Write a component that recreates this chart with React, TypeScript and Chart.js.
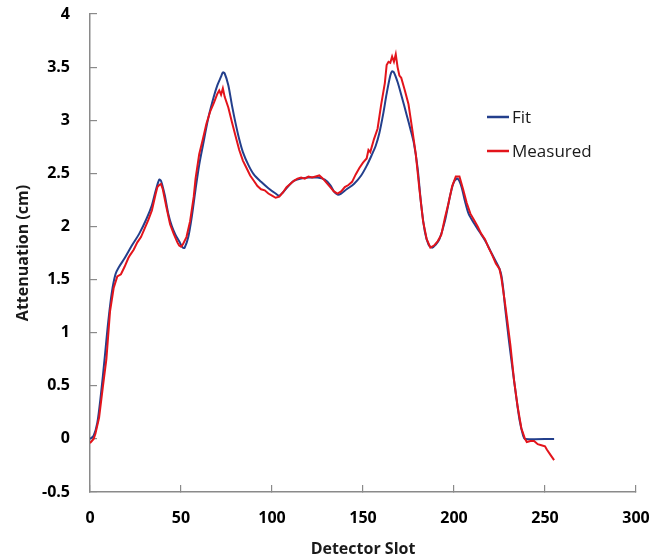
import React, { useEffect, useRef } from "react";
import { Chart, registerables } from "chart.js";

Chart.register(...registerables);

const seriesNames = ["Fit", "Measured"];

const fitSlots = [
  0, 2, 4, 6, 8, 10, 12, 14, 16, 19, 23, 27, 31, 34, 36, 38, 39, 41, 43, 45, 47, 49, 51, 52, 54, 56, 58, 60, 62, 65,
  68, 70, 72, 73, 74, 76, 78, 80, 82, 84, 87, 90, 94, 98, 102, 104, 106, 109, 112, 116, 120, 125, 129, 132, 134, 136,
  138, 141, 145, 149, 152, 155, 157, 159, 161, 163, 165, 166, 167, 169, 171, 174, 176, 178, 180, 182, 184, 186, 188,
  190, 192, 195, 198, 200, 202, 204, 206, 208, 211, 214, 217, 220, 223, 225, 226, 227, 228, 229, 230, 232, 234, 236,
  238, 239, 255,
];
const fitValues = [
  0, 0.03, 0.15, 0.42, 0.75, 1.1, 1.38, 1.55, 1.62, 1.7, 1.82, 1.93, 2.07, 2.2, 2.33, 2.44, 2.43, 2.3, 2.12, 2.0, 1.92,
  1.86, 1.8, 1.8, 1.9, 2.1, 2.35, 2.58, 2.76, 3.02, 3.22, 3.33, 3.41, 3.45, 3.44, 3.33, 3.14, 2.97, 2.82, 2.7, 2.58,
  2.49, 2.42, 2.36, 2.31, 2.29, 2.32, 2.38, 2.43, 2.45, 2.46, 2.46, 2.44, 2.39, 2.33, 2.3, 2.31, 2.35, 2.4, 2.48, 2.57,
  2.68, 2.76, 2.88, 3.05, 3.25, 3.42, 3.46, 3.45, 3.36, 3.24, 3.05, 2.92, 2.78, 2.55, 2.2, 1.95, 1.83, 1.8, 1.83, 1.88,
  2.05, 2.3, 2.42, 2.45, 2.38, 2.24, 2.12, 2.03, 1.95, 1.87, 1.77, 1.67, 1.6, 1.54, 1.42, 1.25, 1.1, 0.95, 0.68, 0.42,
  0.18, 0.03, 0, 0,
];

const measuredSlots = [
  0, 1, 2, 3, 5, 7, 9, 11, 13, 15, 17, 19, 21, 22, 24, 26, 28, 30, 32, 34, 36, 37, 38, 39, 40, 42, 44, 46, 48, 49, 50,
  51, 53, 55, 57, 58, 60, 62, 64, 66, 68, 70, 71, 72, 73, 74, 76, 78, 80, 82, 84, 86, 88, 90, 92, 94, 96, 98, 100, 102,
  104, 106, 108, 110, 112, 114, 116, 118, 120, 122, 124, 126, 128, 130, 132, 134, 136, 138, 140, 142, 144, 146, 148,
  150, 152, 153, 154, 156, 158, 160, 162, 163, 164, 165, 166, 167, 168, 169, 170, 171, 173, 175, 177, 179, 181, 183,
  185, 187, 189, 191, 193, 195, 197, 199, 201, 203, 205, 207, 209, 211, 213, 215, 217, 219, 221, 223, 225, 226, 227,
  228, 229, 231, 233, 235, 237, 239, 240, 242, 244, 246, 248, 250, 251, 253, 255,
];
const measuredValues = [
  -0.04, -0.02, 0.0, 0.05, 0.2, 0.48, 0.75, 1.2, 1.42, 1.53, 1.55, 1.62, 1.7, 1.73, 1.78, 1.85, 1.9, 1.98, 2.06, 2.15,
  2.3, 2.37, 2.39, 2.4, 2.35, 2.18, 2.02, 1.93, 1.85, 1.82, 1.81, 1.83, 1.9, 2.05, 2.28, 2.45, 2.68, 2.82, 2.97, 3.08,
  3.16, 3.25, 3.28, 3.24, 3.3, 3.22, 3.12, 2.98, 2.85, 2.72, 2.62, 2.55, 2.48, 2.43, 2.38, 2.35, 2.34, 2.31, 2.29, 2.27,
  2.28, 2.32, 2.37, 2.4, 2.43, 2.45, 2.46, 2.45, 2.47, 2.46, 2.47, 2.48, 2.45, 2.41, 2.37, 2.33, 2.31, 2.33, 2.37, 2.39,
  2.42, 2.49, 2.55, 2.6, 2.64, 2.72, 2.7, 2.82, 2.92, 3.15, 3.35, 3.52, 3.55, 3.54, 3.6, 3.55, 3.62, 3.5, 3.42, 3.4,
  3.28, 3.15, 2.92, 2.68, 2.35, 2.05, 1.88, 1.8, 1.82, 1.86, 1.92, 2.08, 2.22, 2.38, 2.47, 2.47, 2.35, 2.22, 2.12, 2.06,
  2.0, 1.93, 1.88, 1.8, 1.73, 1.65, 1.6, 1.52, 1.4, 1.28, 1.15, 0.88, 0.55, 0.3, 0.1, 0.0, -0.03, -0.02, -0.02, -0.05,
  -0.06, -0.07, -0.1, -0.15, -0.2,
];

const xTicks = [0, 50, 100, 150, 200, 250, 300];
const yTicks = [-0.5, 0, 0.5, 1, 1.5, 2, 2.5, 3, 3.5, 4];

const fitColor = "#233f8c";
const measuredColor = "#e3141b";
const axisColor = "#8a8a8a";
const fontFamily = '"Open Sans", "DejaVu Sans", sans-serif';

export default function App() {
  const ref = useRef<HTMLCanvasElement>(null);

  useEffect(() => {
    if (!ref.current) return;
    const toPoints = (xs: number[], ys: number[]) => xs.map((x, i) => ({ x, y: ys[i] }));

    const insideLegend = {
      id: "insideLegend",
      afterDraw(chart: any) {
        const ctx = chart.ctx;
        const items = [
          { label: seriesNames[0], color: fitColor, y: 117 },
          { label: seriesNames[1], color: measuredColor, y: 151 },
        ];
        ctx.save();
        ctx.font = `17px ${fontFamily}`;
        ctx.textBaseline = "middle";
        ctx.textAlign = "left";
        items.forEach((it) => {
          ctx.strokeStyle = it.color;
          ctx.lineWidth = 2.5;
          ctx.beginPath();
          ctx.moveTo(487, it.y);
          ctx.lineTo(509, it.y);
          ctx.stroke();
          ctx.fillStyle = "#1a1a1a";
          ctx.fillText(it.label, 512, it.y + 1);
        });
        ctx.restore();
      },
    };

    const zeroPad = (s: any) => {
      s.paddingTop = 0;
      s.paddingBottom = 0;
      s.paddingLeft = 0;
      s.paddingRight = 0;
    };

    const chart = new Chart(ref.current, {
      type: "line",
      data: {
        datasets: [
          {
            label: seriesNames[1],
            data: toPoints(measuredSlots, measuredValues),
            borderColor: measuredColor,
            backgroundColor: measuredColor,
            borderWidth: 2,
            pointRadius: 0,
            tension: 0,
            order: 0,
          },
          {
            label: seriesNames[0],
            data: toPoints(fitSlots, fitValues),
            borderColor: fitColor,
            backgroundColor: fitColor,
            borderWidth: 2,
            pointRadius: 0,
            tension: 0.3,
            order: 1,
          },
        ],
      },
      options: {
        responsive: false,
        animation: false,
        layout: { padding: { top: 14, right: 16, left: 0, bottom: 0 } },
        plugins: { legend: { display: false }, tooltip: { enabled: false } },
        scales: {
          x: {
            type: "linear",
            min: 0,
            max: 300,
            afterBuildTicks: (s: any) => {
              s.ticks = xTicks.map((v) => ({ value: v }));
            },
            afterFit: (s: any) => {
              s.height = 68;
              zeroPad(s);
            },
            ticks: {
              color: "#000",
              font: { family: fontFamily, size: 16, weight: "bold" },
              padding: 24,
              maxRotation: 0,
              callback: (v: any) => String(v),
            },
            grid: { drawOnChartArea: false, tickLength: -7, color: axisColor, lineWidth: 1.2 },
            border: { color: axisColor, width: 1.5 },
            title: {
              display: true,
              text: "Detector Slot",
              color: "#1a1a1a",
              font: { family: fontFamily, size: 16, weight: "bold" },
              padding: { top: 0, bottom: 1 },
            },
          },
          y: {
            type: "linear",
            min: -0.5,
            max: 4,
            afterBuildTicks: (s: any) => {
              s.ticks = yTicks.map((v) => ({ value: v }));
            },
            afterFit: (s: any) => {
              s.width = 90;
              zeroPad(s);
            },
            ticks: {
              color: "#000",
              font: { family: fontFamily, size: 16, weight: "bold" },
              padding: 27,
              callback: (v: any) => String(v),
            },
            grid: { drawOnChartArea: false, tickLength: -7, color: axisColor, lineWidth: 1.2 },
            border: { color: axisColor, width: 1.5 },
            title: {
              display: true,
              text: "Attenuation (cm)",
              color: "#1a1a1a",
              font: { family: fontFamily, size: 16, weight: "bold" },
              padding: { top: 14, bottom: 0 },
            },
          },
        },
      },
      plugins: [insideLegend],
    } as any);

    return () => chart.destroy();
  }, []);

  return (
    <div style={{ position: "fixed", left: 0, top: 0, width: 652, height: 560, background: "#fff" }}>
      <canvas ref={ref} width={652} height={560} style={{ width: 652, height: 560, display: "block" }} />
    </div>
  );
}
